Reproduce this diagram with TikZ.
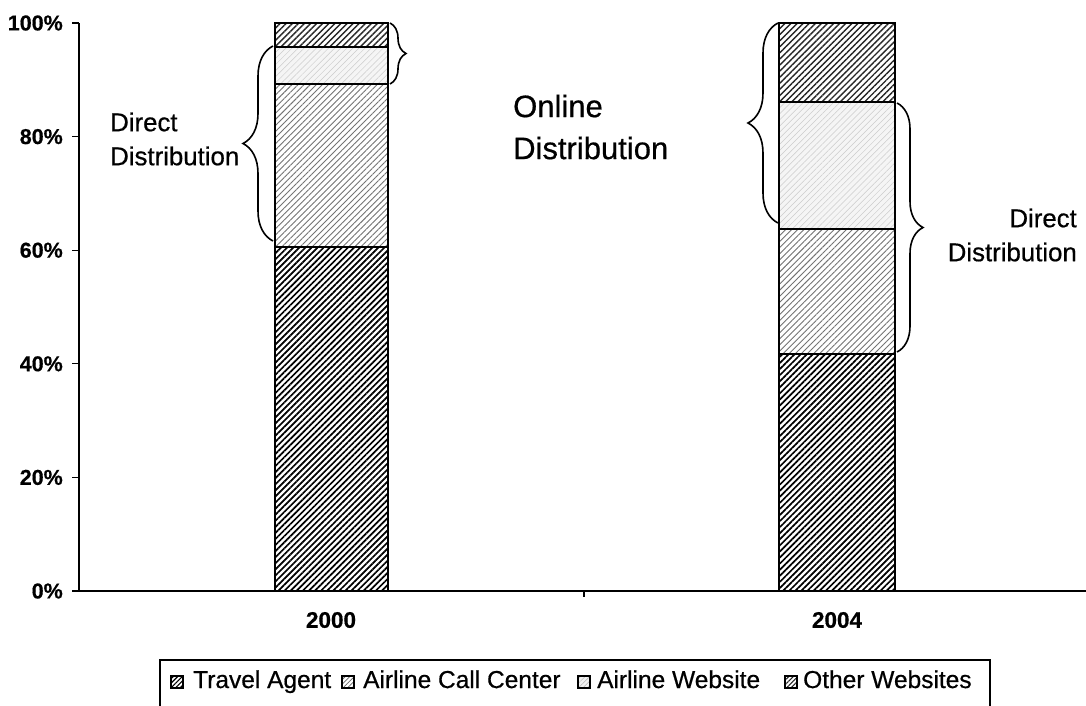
\documentclass[tikz,border=0pt]{standalone}
\usepackage{fontspec}
\setmainfont[FakeBold=0.6]{Liberation Sans}
\usetikzlibrary{patterns.meta,decorations.pathreplacing}

\tikzset{
  segline/.style={draw=black, line width=2.4pt},
  agent/.style={segline, pattern={Lines[angle=45,distance=4.3pt,line width=1.7pt]}, pattern color=black},
  callc/.style={segline, preaction={fill=white}, pattern={Lines[angle=45,distance=4.3pt,line width=0.9pt]}, pattern color=black!55},
  website/.style={segline, preaction={fill=black!4}, pattern={Lines[angle=45,distance=4.3pt,line width=0.5pt]}, pattern color=black!20},
  otherw/.style={segline, pattern={Lines[angle=45,distance=4.3pt,line width=1.4pt]}, pattern color=black!85},
  curly/.style={draw=black, line width=1.6pt, decorate},
  ticklab/.style={anchor=east, font=\fontsize{21.5}{25}\bfseries, inner sep=0pt},
  yearlab/.style={font=\fontsize{22.5}{26}\bfseries, inner sep=0pt},
  note/.style={font=\fontsize{25.8}{34}\selectfont, inner sep=0pt},
  bignote/.style={font=\fontsize{31}{42}\selectfont, inner sep=0pt},
  legtext/.style={anchor=base west, font=\fontsize{24.5}{28}\selectfont, inner sep=0pt},
  swatch/.style={line width=1.3pt, draw=black},
}

\begin{document}
\begin{tikzpicture}[x=1pt,y=-1pt]
\useasboundingbox (0,0) rectangle (1086,705);
\clip (0,0) rectangle (1086,705);

% axes
\coordinate (origin) at (79,591);
\coordinate (ytop) at (79,23);
\coordinate (xend) at (1086,591);
\draw[line width=1.3pt] (ytop) -- (origin) -- (xend);
\foreach \p in {0,20,40,60,80,100}{
  \pgfmathsetmacro{\yy}{591-5.68*\p}
  \draw[line width=1.3pt] (72,\yy) -- (79,\yy);
  \node[ticklab] (t\p) at (63,\yy) {\p\%};
}
\coordinate (midtick) at (584,591);
\draw[line width=1.3pt] (midtick) -- ++(0,6);

% 2000 bar
\path[agent] (275,591) rectangle (388,247);
\path[callc] (275,247) rectangle (388,84);
\path[website] (275,84) rectangle (388,47);
\path[otherw] (275,47) rectangle (388,23);

% 2004 bar
\path[agent] (779,591) rectangle (895,354);
\path[callc] (779,354) rectangle (895,229);
\path[website] (779,229) rectangle (895,102);
\path[otherw] (779,102) rectangle (895,23);

% braces
\coordinate (b1s) at (273,241); \coordinate (b1e) at (273,46);
\coordinate (b2s) at (390,23);  \coordinate (b2e) at (390,84);
\coordinate (b3s) at (778,223); \coordinate (b3e) at (778,23);
\coordinate (b4s) at (897,103); \coordinate (b4e) at (897,352);
\draw[curly, decoration={brace, amplitude=30pt}] (b1s) -- (b1e);
\draw[curly, decoration={brace, amplitude=16pt}] (b2s) -- (b2e);
\draw[curly, decoration={brace, amplitude=30pt}] (b3s) -- (b3e);
\draw[curly, decoration={brace, amplitude=26pt}] (b4s) -- (b4e);

% annotations
\node[note, anchor=west, align=left] (dd1) at (110,139) {Direct\\Distribution};
\node[bignote, anchor=west, align=left] (od) at (513,127) {Online\\Distribution};
\node[note, anchor=east, align=right] (dd2) at (1077,235) {Direct\\Distribution};

% category labels
\node[yearlab] (y2000) at (331,620) {2000};
\node[yearlab] (y2004) at (837,620) {2004};

% legend
\draw[line width=1.2pt] (160,660) rectangle (990,730);
\path[swatch, pattern={Lines[angle=45,distance=3.2pt,line width=1.2pt]}, pattern color=black] (171,676) rectangle (183,688);
\node[legtext] (l1) at (193,688) {Travel Agent};
\path[swatch, pattern={Lines[angle=45,distance=3.2pt,line width=0.8pt]}, pattern color=black!60] (342,676) rectangle (354,688);
\node[legtext] (l2) at (363,688) {Airline Call Center};
\path[swatch, preaction={fill=black!5}, pattern={Lines[angle=45,distance=3.2pt,line width=0.5pt]}, pattern color=black!30] (578,676) rectangle (590,688);
\node[legtext] (l3) at (597,688) {Airline Website};
\path[swatch, pattern={Lines[angle=45,distance=3.2pt,line width=1.1pt]}, pattern color=black!85] (785,676) rectangle (797,688);
\node[legtext] (l4) at (803,688) {Other Websites};
\end{tikzpicture}
\end{document}
